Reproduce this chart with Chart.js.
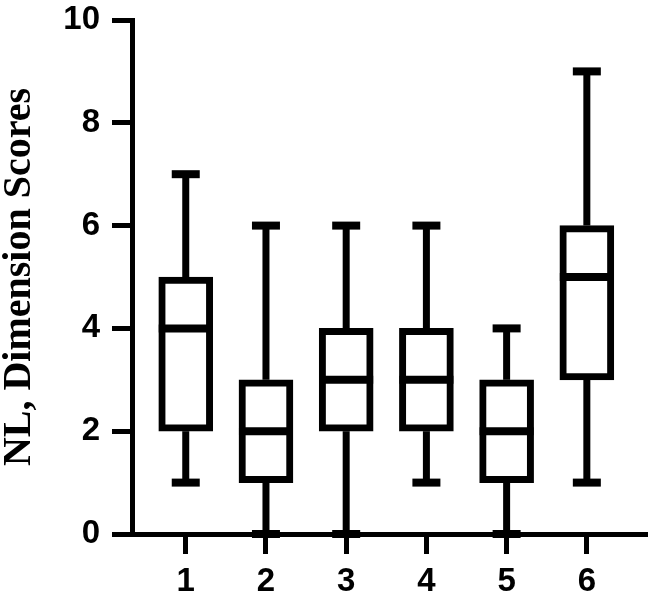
<!DOCTYPE html>
<html>
<head>
<meta charset="utf-8">
<script src="https://cdn.jsdelivr.net/npm/chart.js@4.4.1/dist/chart.umd.min.js"></script>
<style>
  body { margin: 0; background: #fff; }
  #wrap { width: 650px; height: 600px; }
</style>
</head>
<body>
<div id="wrap"><canvas id="grafico"></canvas></div>
<script>
const groups = [1, 2, 3, 4, 5, 6];
const mins = [1, 0, 0, 1, 0, 1];
const q1s = [2, 1, 2, 2, 1, 3];
const medians = [4, 2, 3, 3, 2, 5];
const q3s = [5, 3, 4, 4, 3, 6];
const maxs = [7, 6, 6, 6, 4, 9];
const yTicks = [0, 2, 4, 6, 8, 10];
const yTitle = 'NL, Dimension Scores';

// whiskers, caps and median lines on top of the floating bars
const boxExtras = {
  id: 'boxExtras',
  afterDatasetsDraw(chart) {
    const { ctx, scales: { x, y } } = chart;
    const bars = chart.getDatasetMeta(0).data;
    const line = (x1, y1, x2, y2, w) => {
      ctx.lineWidth = w;
      ctx.beginPath();
      ctx.moveTo(x1, y1);
      ctx.lineTo(x2, y2);
      ctx.stroke();
    };
    ctx.save();
    ctx.strokeStyle = '#000';
    ctx.lineCap = 'butt';
    groups.forEach((g, i) => {
      const cx = x.getPixelForValue(g);
      const half = bars[i].width / 2;
      const yMax = y.getPixelForValue(maxs[i]);
      const yMin = y.getPixelForValue(mins[i]);
      line(cx, y.getPixelForValue(q3s[i]), cx, yMax, 7);
      line(cx, y.getPixelForValue(q1s[i]), cx, yMin, 7);
      line(cx - 14, yMax, cx + 14, yMax, 8);
      line(cx - 14, yMin, cx + 14, yMin, 8);
      const ym = y.getPixelForValue(medians[i]);
      line(cx - half, ym, cx + half, ym, 8);
    });
    ctx.restore();
  }
};

const ctx = document.getElementById('grafico').getContext('2d');
new Chart(ctx, {
  type: 'bar',
  data: {
    datasets: [{
      data: groups.map((g, i) => ({ x: g, y: [q1s[i], q3s[i]] })),
      backgroundColor: '#fff',
      borderColor: '#000',
      borderWidth: 7,
      borderSkipped: false,
      barThickness: 54
    }]
  },
  options: {
    responsive: true,
    maintainAspectRatio: false,
    animation: false,
    layout: { padding: { top: 20, right: 3, bottom: 0, left: 0 } },
    plugins: {
      legend: { display: false },
      tooltip: { enabled: false }
    },
    scales: {
      x: {
        type: 'linear',
        offset: false,
        min: 0.33,
        max: 6.75,
        afterBuildTicks: s => { s.ticks = groups.map(v => ({ value: v })); },
        afterFit: s => { s.height = 66; s.paddingLeft = 0; s.paddingRight = 0; },
        grid: { offset: false, drawOnChartArea: false, drawTicks: true, tickLength: 20, tickWidth: 5, tickColor: '#000' },
        border: { display: true, color: '#000', width: 5 },
        ticks: {
          color: '#000',
          padding: 8,
          font: { family: 'Liberation Sans', size: 33, weight: 'bold' }
        }
      },
      y: {
        min: 0,
        max: 10,
        afterBuildTicks: s => { s.ticks = yTicks.map(v => ({ value: v })); },
        afterFit: s => { s.width = 132; s.paddingTop = 0; s.paddingBottom = 0; },
        grid: { drawOnChartArea: false, drawTicks: true, tickLength: 20, tickWidth: 5, tickColor: '#000' },
        border: { display: true, color: '#000', width: 5 },
        title: {
          display: true,
          text: yTitle,
          color: '#000',
          padding: 0,
          font: { family: 'Liberation Serif', size: 40, weight: 'bold', lineHeight: 1 }
        },
        ticks: {
          color: '#000',
          padding: 12,
          font: { family: 'Liberation Sans', size: 33, weight: 'bold' }
        }
      }
    }
  },
  plugins: [boxExtras]
});
</script>
</body>
</html>
